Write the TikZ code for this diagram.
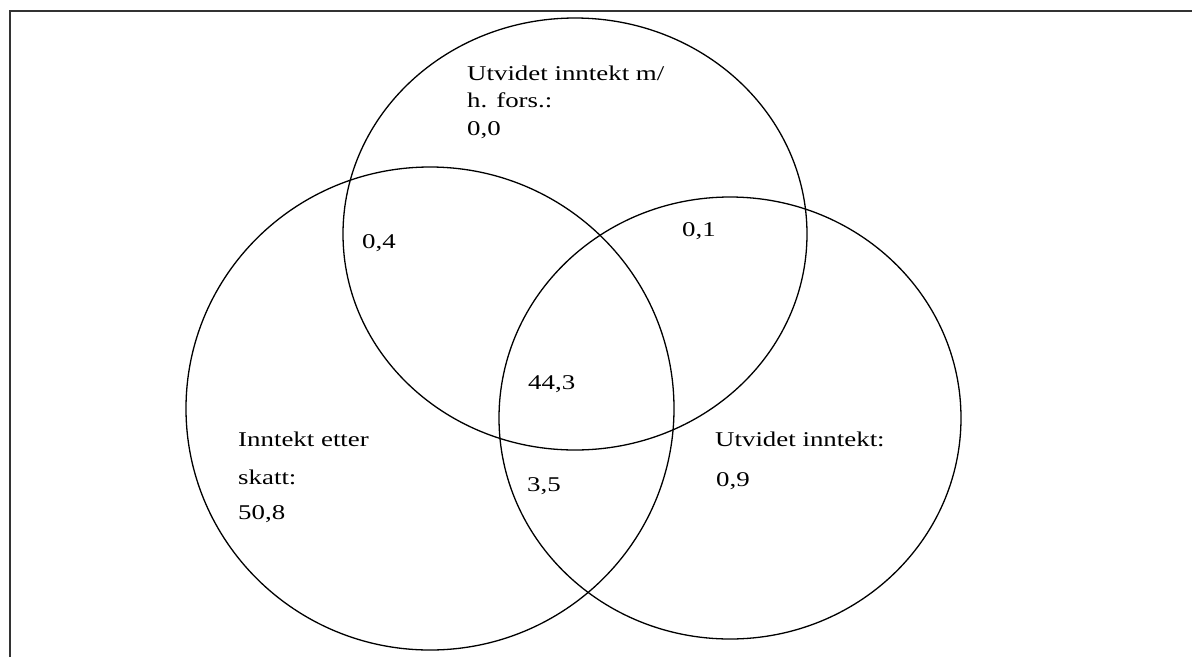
\documentclass[tikz,border=0pt]{standalone}
\usepackage{fontspec}
\setmainfont{Liberation Serif}
\newfontfamily\widefont[FakeStretch=1.28]{Liberation Serif}
\begin{document}
\begin{tikzpicture}[x=1pt,y=-1pt,
  lbl/.style={inner sep=0pt, anchor=base west, font=\widefont\fontsize{21}{25}\selectfont},
  ring/.style={draw=black, line width=1.3pt},
  frameline/.style={draw=black!80, line width=2pt}]
\useasboundingbox (0,0) rectangle (1192,657);
% frame (top and left edges)
\draw[frameline] (9.5,657) -- (9.5,10.5) -- (1192,10.5);
% circles
\draw[ring] (575,234) ellipse [x radius=232pt, y radius=216pt];
\draw[ring] (430,408.5) ellipse [x radius=244pt, y radius=241.5pt];
\draw[ring] (730,418) ellipse [x radius=231pt, y radius=221pt];
% labels
\node[lbl] (t1) at (467,80) {Utvidet inntekt m/};
\node[lbl] (t2) at (467,107) {h. fors.:};
\node[lbl] (t3) at (467,135) {0,0};
\node[lbl] (a1) at (362,248) {0,4};
\node[lbl] (b1) at (682,236) {0,1};
\node[lbl] (c1) at (528,389) {44,3};
\node[lbl] (d1) at (527,491) {3,5};
\node[lbl] (l1) at (238,446) {Inntekt etter};
\node[lbl] (l2) at (238,484) {skatt:};
\node[lbl] (l3) at (238,519) {50,8};
\node[lbl] (r1) at (715,446) {Utvidet inntekt:};
\node[lbl] (r2) at (716,486) {0,9};
\end{tikzpicture}
\end{document}
